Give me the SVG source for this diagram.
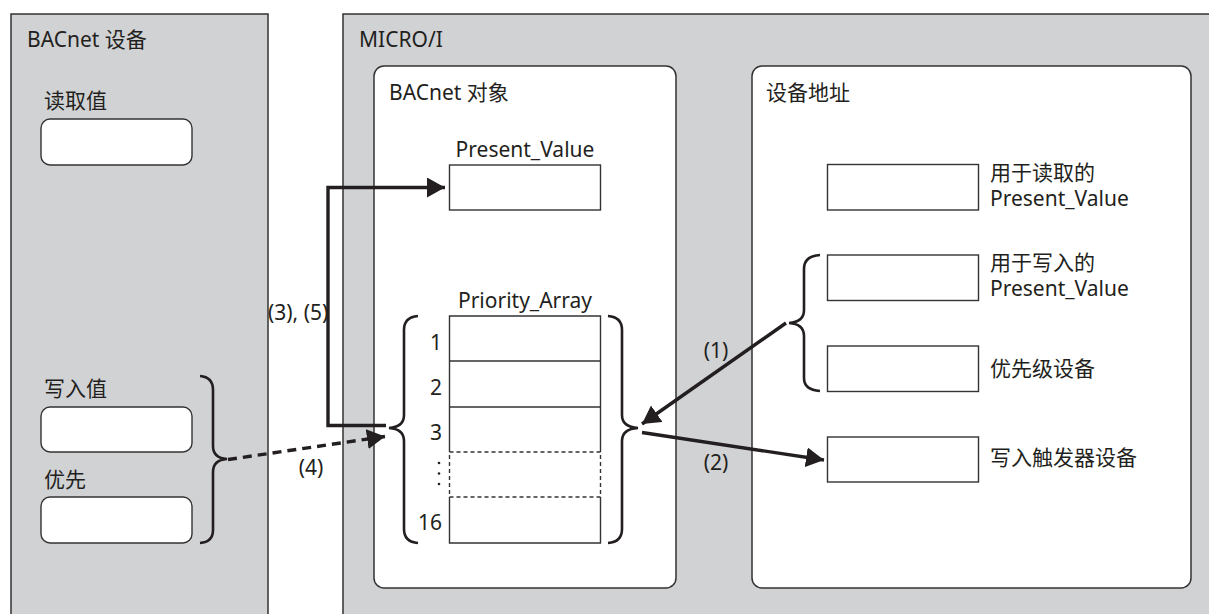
<svg xmlns="http://www.w3.org/2000/svg" width="1209" height="614" viewBox="0 0 1209 614">
<defs>
<style>
text{font-family:"Noto Sans","Noto Sans CJK SC",sans-serif;font-size:21px;fill:#231f20}
.panel{fill:#d1d2d4;stroke:#333;stroke-width:1.5}
.inner{fill:#fff;stroke:#333;stroke-width:1.5}
.box{fill:#fff;stroke:#333;stroke-width:1.4}
.ln{fill:none;stroke:#333;stroke-width:1.4}
.dl{fill:none;stroke:#333;stroke-width:1.4;stroke-dasharray:4 3}
.brace{fill:none;stroke:#231f20;stroke-width:2.6}
.conn{fill:none;stroke:#231f20;stroke-width:3.4}
.dash{stroke-dasharray:9 6}
.mid{text-anchor:middle}
.end{text-anchor:end}
</style>
<marker id="ah" viewBox="0 0 18 20" refX="18" refY="10" markerWidth="18" markerHeight="20" markerUnits="userSpaceOnUse" orient="auto">
<path d="M0,0 L18,10 L0,20 Z" fill="#231f20"/>
</marker>
</defs>

<g id="bacnet-device">
<rect class="panel" x="11" y="14" width="257" height="620"/>
<text x="27" y="47">BACnet 设备</text>
<text x="44" y="108">读取值</text>
<rect class="box" x="41" y="119" width="151" height="46" rx="9"/>
<text x="44" y="396">写入值</text>
<rect class="box" x="41" y="407" width="151" height="45" rx="9"/>
<text x="44" y="487">优先</text>
<rect class="box" x="41" y="497" width="151" height="46" rx="9"/>
<path class="brace" d="M200,376 Q213,377 213,390 L213,446 Q213,458 227,459 Q213,460 213,472 L213,530 Q213,542 200,543"/>
</g>

<g id="micro-i">
<rect class="panel" x="343" y="14" width="900" height="620"/>
<text x="359" y="47">MICRO/I</text>
</g>

<g id="bacnet-object">
<rect class="inner" x="374" y="66" width="302" height="522" rx="10"/>
<text x="389" y="100">BACnet 对象</text>
<text class="mid" x="525" y="157">Present_Value</text>
<rect class="box" x="449.5" y="165" width="151" height="45"/>
<text class="mid" x="525" y="308">Priority_Array</text>
<rect x="449.5" y="316" width="151" height="227" fill="#fff"/>
<path class="ln" d="M449.5,452 V316 H600.5 V452 M449.5,361 H600.5 M449.5,407 H600.5 M449.5,497 V543 H600.5 V497"/>
<path class="dl" d="M449.5,452 H600.5 V497 H449.5 Z"/>
<text class="end" x="442" y="350">1</text>
<text class="end" x="442" y="395">2</text>
<text class="end" x="442" y="440">3</text>
<text class="end" x="442" y="530">16</text>
<circle cx="439" cy="463" r="1.3" fill="#231f20"/>
<circle cx="439" cy="473.5" r="1.3" fill="#231f20"/>
<circle cx="439" cy="484" r="1.3" fill="#231f20"/>
<path class="brace" d="M418,316 Q404,317 404,330 L404,415 Q404,427 389,428 Q404,429 404,441 L404,529 Q404,542 418,543"/>
<path class="brace" d="M608,316 Q622,317 622,330 L622,415 Q622,427 638,428 Q622,429 622,441 L622,529 Q622,542 608,543"/>
</g>

<g id="device-address">
<rect class="inner" x="752" y="66" width="439" height="522" rx="10"/>
<text x="766" y="100">设备地址</text>
<rect class="box" x="827.5" y="164.5" width="151" height="45.5"/>
<text x="990" y="180">用于读取的</text>
<text x="990" y="206">Present_Value</text>
<rect class="box" x="827.5" y="255" width="151" height="45.5"/>
<text x="990" y="270">用于写入的</text>
<text x="990" y="296">Present_Value</text>
<rect class="box" x="827.5" y="346" width="151" height="45.5"/>
<text x="990" y="376">优先级设备</text>
<rect class="box" x="827.5" y="437" width="151" height="45"/>
<text x="990" y="465">写入触发器设备</text>
<path class="brace" d="M820,255 Q804,256 804,269 L804,310 Q804,322 789,323 Q804,324 804,336 L804,378 Q804,390 820,391"/>
</g>

<g id="connectors">
<polyline class="conn" points="386,425.5 328,425.5 328,187.5 445,187.5" marker-end="url(#ah)"/>
<line class="conn dash" x1="228" y1="459.5" x2="385" y2="436.5" marker-end="url(#ah)"/>
<line class="conn" x1="786" y1="323" x2="642" y2="424" marker-end="url(#ah)"/>
<line class="conn" x1="642" y1="432.5" x2="824" y2="460" marker-end="url(#ah)"/>
<text x="268" y="320">(3), (5)</text>
<text class="mid" x="311" y="475">(4)</text>
<text class="mid" x="716" y="358">(1)</text>
<text class="mid" x="716" y="470">(2)</text>
</g>
</svg>
